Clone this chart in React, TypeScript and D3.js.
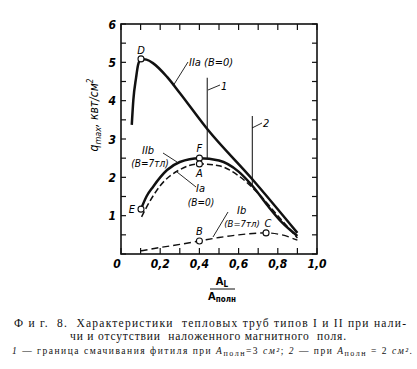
import React from 'react';
import * as d3 from 'd3';

// curve IIa (B=0), solid
const iiaX = [0.055, 0.063, 0.077, 0.087, 0.102, 0.13, 0.163, 0.235, 0.3, 0.44, 0.67, 0.9];
const iiaY = [3.37, 4.02, 4.6, 4.93, 5.09, 5.07, 4.98, 4.62, 4.2, 3.26, 1.95, 0.55];
// curve IIb (B=7), solid
const iibX = [0.102, 0.13, 0.163, 0.235, 0.3, 0.4, 0.5, 0.6, 0.67, 0.75, 0.82, 0.9];
const iibY = [1.17, 1.5, 1.75, 2.19, 2.4, 2.5, 2.44, 2.15, 1.78, 1.25, 0.83, 0.47];
// curve Ia (B=0), dashed
const iaX = [0.105, 0.15, 0.2, 0.3, 0.4, 0.5, 0.6, 0.7, 0.8, 0.9];
const iaY = [0.97, 1.4, 1.78, 2.2, 2.35, 2.3, 2.04, 1.58, 1.0, 0.42];
// curve Ib (B=7), dashed
const ibX = [0.1, 0.2, 0.3, 0.4, 0.5, 0.6, 0.74, 0.82, 0.9];
const ibY = [0.08, 0.17, 0.25, 0.34, 0.43, 0.5, 0.55, 0.5, 0.36];

const markNames = ['D', 'F', 'A', 'E', 'B', 'C'];
const markX = [0.102, 0.4, 0.4, 0.102, 0.4, 0.74];
const markY = [5.09, 2.5, 2.35, 1.17, 0.34, 0.55];

// wetting limits 1 and 2
const limitX = [0.44, 0.67];
const limitTop = [4.6, 3.6];
const limitBottom = [2.48, 1.78];

const xTickLabels = ['0,2', '0,4', '0,6', '0,8', '1,0'];
const xTickValues = [0.2, 0.4, 0.6, 0.8, 1.0];
const yTickValues = [1, 2, 3, 4, 5, 6];

const W = 417;
const H = 369;

const x = d3.scaleLinear().domain([0, 1]).range([121, 317]);
const y = d3.scaleLinear().domain([0, 6]).range([254, 24]);

const zip = (xs: number[], ys: number[]) => xs.map((v, i) => [v, ys[i]] as [number, number]);
const line = d3.line<[number, number]>()
  .x(d => x(d[0]))
  .y(d => y(d[1]))
  .curve(d3.curveMonotoneX);

const tickFont = "'DejaVu Sans Condensed', 'DejaVu Sans', sans-serif";
const serif = "'Liberation Serif', 'DejaVu Serif', serif";

export default function App() {
  const minor = d3.range(0, 1.0001, 0.1);
  const half = d3.range(0, 6.0001, 0.5);
  const lab = { fontFamily: tickFont, fontStyle: 'italic', fontSize: 12, fontWeight: 600 } as const;

  return (
    <svg width={W} height={H} style={{ position: 'absolute', left: 0, top: 0, background: '#fff' }}>
      {/* frame */}
      <rect x={x(0)} y={y(6)} width={x(1) - x(0)} height={y(0) - y(6)} fill="none" stroke="#111" strokeWidth={1.6} />
      {minor.map((t, i) => (
        <g key={'xt' + i} stroke="#111" strokeWidth={1.2}>
          <line x1={x(t)} x2={x(t)} y1={y(0)} y2={y(0) - 6} />
          <line x1={x(t)} x2={x(t)} y1={y(6)} y2={y(6) + 6} />
        </g>
      ))}
      {half.map((t, i) => (
        <g key={'yt' + i} stroke="#111" strokeWidth={1.2}>
          <line x1={x(0)} x2={x(0) + 5} y1={y(t)} y2={y(t)} />
          <line x1={x(1)} x2={x(1) - 5} y1={y(t)} y2={y(t)} />
        </g>
      ))}

      {/* tick labels */}
      <text x={x(0) - 4} y={268} textAnchor="middle" {...lab}>0</text>
      {xTickValues.map((t, i) => (
        <text key={'xl' + i} x={x(t)} y={268} textAnchor="middle" {...lab}>{xTickLabels[i]}</text>
      ))}
      {yTickValues.map((t, i) => (
        <text key={'yl' + i} x={x(0) - 5} y={y(t) + 4.5} textAnchor="end" {...lab}>{t}</text>
      ))}

      {/* axis titles */}
      <text transform="translate(98,115) rotate(-90)" textAnchor="middle"
        fontFamily={tickFont} fontStyle="italic" fontSize={12}>
        q<tspan fontSize={9} dy={3}>max</tspan><tspan dy={-3}>, квт/см</tspan><tspan fontSize={8} dy={-5}>2</tspan>
      </text>
      <g fontFamily={tickFont} fontSize={11} fontWeight={600} textAnchor="middle">
        <text x={222} y={285}>A<tspan fontSize={8} dy={2}>L</tspan></text>
        <line x1={210} x2={235} y1={289} y2={289} stroke="#111" strokeWidth={1} />
        <text x={222} y={300}>A<tspan fontSize={8} dy={2}>полн</tspan></text>
      </g>

      {/* wetting limit lines */}
      {limitX.map((v, i) => (
        <line key={'lim' + i} x1={x(v)} x2={x(v)} y1={y(limitTop[i])} y2={y(limitBottom[i])} stroke="#222" strokeWidth={1.1} />
      ))}

      {/* curves */}
      <path d={line(zip(iiaX, iiaY)) || ''} fill="none" stroke="#111" strokeWidth={2.5} />
      <path d={line(zip(iibX, iibY)) || ''} fill="none" stroke="#111" strokeWidth={2.5} />
      <path d={line(zip(iaX, iaY)) || ''} fill="none" stroke="#111" strokeWidth={1.5} strokeDasharray="6,3" />
      <path d={line(zip(ibX, ibY)) || ''} fill="none" stroke="#111" strokeWidth={1.4} strokeDasharray="7,4" />

      {markX.map((v, i) => (
        <circle key={'m' + i} cx={x(v)} cy={y(markY[i])} r={3} fill="#fff" stroke="#111" strokeWidth={1.1} />
      ))}

      {/* leader lines */}
      <g stroke="#111" strokeWidth={0.9} fill="none">
        <line x1={188} y1={62} x2={173} y2={86} />
        <line x1={208} y1={90} x2={220} y2={85} />
        <line x1={252} y1={128} x2={262} y2={123} />
        <line x1={163} y1={153} x2={177} y2={162} />
        <line x1={196} y1={187} x2={177} y2={172} />
        <line x1={228} y1={212} x2={213} y2={237} />
      </g>

      {/* annotations */}
      <g fontFamily={tickFont} fontStyle="italic" fontSize={11}>
        <text x={x(markX[0])} y={54} textAnchor="middle">{markNames[0]}</text>
        <text x={x(markX[1])} y={152} textAnchor="middle">{markNames[1]}</text>
        <text x={x(markX[2])} y={177} textAnchor="middle">{markNames[2]}</text>
        <text x={x(markX[3]) - 9} y={213} textAnchor="middle">{markNames[3]}</text>
        <text x={x(markX[4])} y={235} textAnchor="middle">{markNames[4]}</text>
        <text x={x(markX[5]) + 2} y={227} textAnchor="middle">{markNames[5]}</text>
        <text x={189} y={66}>IIa (B=0)</text>
        <text x={221} y={90}>1</text>
        <text x={263} y={127}>2</text>
        <text x={142} y={154}>IIb</text>
        <text x={150} y={167} textAnchor="middle" fontSize={10}>(B=7тл)</text>
        <text x={196} y={192}>Ia</text>
        <text x={201} y={206} textAnchor="middle" fontSize={10}>(B=0)</text>
        <text x={237} y={214}>Ib</text>
        <text x={242} y={227} textAnchor="middle" fontSize={9.5}>(B=7тл)</text>
      </g>

      {/* caption */}
      <g fontFamily={serif} fill="#111">
        <text x={14} y={327} fontSize={11.5} textLength={392} lengthAdjust="spacing">
          {'Ф и г.\u00a0 8.\u00a0 Характеристики\u00a0 тепловых труб типов I и II при нали-'}
        </text>
        <text x={70} y={340} fontSize={11.5} textLength={276} lengthAdjust="spacing">
          {'чи и отсутствии\u00a0 наложенного магнитного\u00a0 поля.'}
        </text>
        <text x={12} y={354} fontSize={9.5} textLength={400} lengthAdjust="spacing">
          <tspan fontStyle="italic">1</tspan> — граница смачивания фитиля при <tspan fontStyle="italic">A</tspan>
          <tspan fontSize={8} dy={2}>полн</tspan><tspan dy={-2}>=3 </tspan><tspan fontStyle="italic">см²</tspan>;  <tspan fontStyle="italic">2</tspan> — при  <tspan fontStyle="italic">A</tspan>
          <tspan fontSize={8} dy={2}>полн</tspan><tspan dy={-2}> = 2 </tspan><tspan fontStyle="italic">см²</tspan>.
        </text>
      </g>
    </svg>
  );
}
